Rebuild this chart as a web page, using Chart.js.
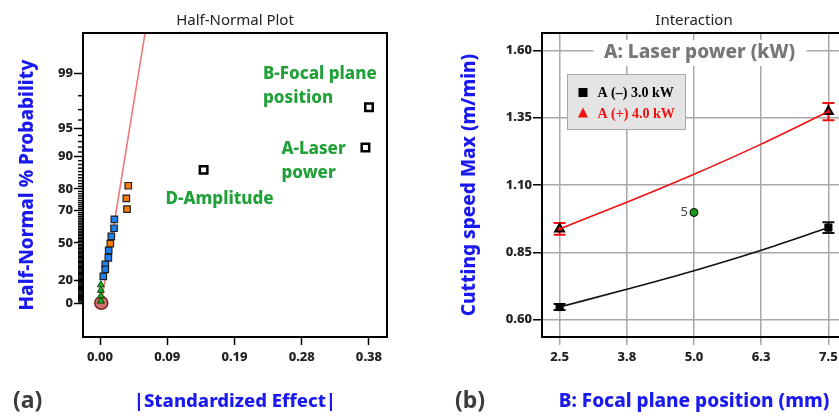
<!DOCTYPE html>
<html>
<head>
<meta charset="utf-8">
<script src="https://cdn.jsdelivr.net/npm/chart.js@4.4.1/dist/chart.umd.min.js"></script>
<style>
  html, body { margin: 0; padding: 0; background: #fff; overflow: hidden; }
  body { width: 839px; height: 417px; position: relative; }
  canvas { position: absolute; top: 0; }
  #halfNormal { left: 0; }
  #interaction { left: 420px; }
</style>
</head>
<body>
<canvas id="halfNormal" width="420" height="417"></canvas>
<canvas id="interaction" width="440" height="417"></canvas>
<script>
// (a) half-normal plot: |standardized effect| vs half-normal probability (%)
const namedEffects = [0.378, 0.373, 0.1456];
const namedProb = [97.2, 91.9, 86.5];
const namedLabels = [['B-Focal plane', 'position'], ['A-Laser', 'power'], ['D-Amplitude']];
const orangeEffects = [0.0397, 0.0370, 0.0380, 0.0145];
const orangeProb = [81.2, 76.0, 70.8, 49.5];
const blueEffects = [0.0201, 0.0197, 0.0159, 0.0122, 0.0117, 0.0074, 0.0074, 0.0046];
const blueProb = [65.3, 59.9, 54.6, 44.6, 38.9, 33.6, 29.5, 23.6];
const greenEffects = [0.0012, 0.0012, 0.0012, 0.0012];
const greenProb = [16.3, 11.4, 6.3, 1.8];
const errorEffects = [0.0018];
const errorProb = [0.3];
const fitEffects = [0.0018, 0.0686];
const fitProb = [0, 99.9];
const probTicks = [0, 20, 50, 70, 80, 90, 95, 99];
const effectTicks = [0, 0.0945, 0.189, 0.2835, 0.378];

// (b) interaction of laser power and focal plane position
const focalTicks = [2.5, 3.75, 5.0, 6.25, 7.5];
const speedTicks = [0.60, 0.85, 1.10, 1.35, 1.60];
const focalCurve = [2.5, 3.75, 5.0, 6.25, 7.5];
const lowPowerCurve = [0.647, 0.713, 0.782, 0.858, 0.942];
const highPowerCurve = [0.937, 1.036, 1.140, 1.252, 1.373];
const focalLevels = [2.5, 7.5];
const lowPowerMean = [0.647, 0.942];
const highPowerMean = [0.937, 1.373];
const lowPowerLsd = [0.011, 0.020];
const highPowerLsd = [0.022, 0.032];
const centerFocal = [5.0];
const centerSpeed = [0.998];
const centerRuns = ['5'];

const FONT = "'Noto Sans', 'Open Sans', sans-serif";
Chart.defaults.font.family = FONT;
Chart.defaults.color = '#222';

// inverse normal CDF (Acklam) used for the half-normal probability axis
function probit(p) {
  const a = [-3.969683028665376e+01, 2.209460984245205e+02, -2.759285104469687e+02, 1.383577518672690e+02, -3.066479806614716e+01, 2.506628277459239e+00];
  const b = [-5.447609879822406e+01, 1.615858368580409e+02, -1.556989798598866e+02, 6.680131188771972e+01, -1.328068155288572e+01];
  const c = [-7.784894002430293e-03, -3.223964580411365e-01, -2.400758277161838e+00, -2.549732539343734e+00, 4.374664141464968e+00, 2.938163982698783e+00];
  const d = [7.784695709041462e-03, 3.224671290700398e-01, 2.445134137142996e+00, 3.754408661907416e+00];
  const lo = 0.02425;
  let q, r;
  if (p < lo) {
    q = Math.sqrt(-2 * Math.log(p));
    return (((((c[0]*q+c[1])*q+c[2])*q+c[3])*q+c[4])*q+c[5]) / ((((d[0]*q+d[1])*q+d[2])*q+d[3])*q+1);
  }
  if (p <= 1 - lo) {
    q = p - 0.5; r = q * q;
    return (((((a[0]*r+a[1])*r+a[2])*r+a[3])*r+a[4])*r+a[5])*q / (((((b[0]*r+b[1])*r+b[2])*r+b[3])*r+b[4])*r+1);
  }
  q = Math.sqrt(-2 * Math.log(1 - p));
  return -(((((c[0]*q+c[1])*q+c[2])*q+c[3])*q+c[4])*q+c[5]) / ((((d[0]*q+d[1])*q+d[2])*q+d[3])*q+1);
}
const hnz = pct => probit(0.5 + pct / 200);
const pts = (xs, ps) => xs.map((x, i) => ({ x: x, y: hnz(ps[i]) }));

const tickFont = { size: 13, weight: 800 };
const yTitleFont = { size: 19, weight: 800 };
const axisBlue = '#1a1af0';

// panel title, panel letter and frame
function panelDecor(title, letter, letterX, fullFrame) {
  return {
    id: 'panelDecor',
    afterDraw(chart) {
      const { ctx, chartArea: ca } = chart;
      ctx.save();
      ctx.fillStyle = '#222';
      ctx.font = '15px ' + FONT;
      ctx.textAlign = 'center';
      ctx.textBaseline = 'middle';
      ctx.fillText(title, (ca.left + ca.right) / 2, 21);
      ctx.fillStyle = '#3c3c3c';
      ctx.font = 'bold 23px ' + FONT;
      ctx.textAlign = 'left';
      ctx.fillText(letter, letterX, 401);
      ctx.strokeStyle = '#000';
      ctx.lineWidth = 2;
      if (fullFrame) {
        ctx.strokeRect(ca.left, ca.top, ca.right - ca.left, ca.bottom - ca.top);
      } else {
        ctx.beginPath();
        ctx.moveTo(ca.left, ca.top);
        ctx.lineTo(ca.right + 20, ca.top);
        ctx.stroke();
      }
      ctx.restore();
    }
  };
}

// minor ticks on the probability axis
const minorTicks = {
  id: 'minorTicks',
  afterDraw(chart) {
    const { ctx } = chart;
    const y = chart.scales.y;
    ctx.save();
    ctx.strokeStyle = '#000';
    ctx.lineWidth = 1.4;
    for (let p = 1; p < 99; p++) {
      if (probTicks.includes(p)) continue;
      const py = y.getPixelForValue(hnz(p));
      ctx.beginPath();
      ctx.moveTo(y.right - 5, py);
      ctx.lineTo(y.right, py);
      ctx.stroke();
    }
    ctx.restore();
  }
};

// labels next to the significant effects
const labelOffsets = [[-106, -33], [-84, 2], [-38, 29]];
const effectLabels = {
  id: 'effectLabels',
  afterDatasetsDraw(chart) {
    const { ctx } = chart;
    const meta = chart.getDatasetMeta(0);
    ctx.save();
    ctx.fillStyle = '#22a03a';
    ctx.font = '800 17px ' + FONT;
    ctx.textAlign = 'left';
    ctx.textBaseline = 'middle';
    meta.data.forEach((pt, i) => {
      const [dx, dy] = labelOffsets[i];
      namedLabels[i].forEach((line, j) => {
        ctx.fillText(line, pt.x + dx, pt.y + dy + j * 24);
      });
    });
    ctx.restore();
  }
};

new Chart(document.getElementById('halfNormal'), {
  type: 'scatter',
  data: {
    datasets: [
      { label: 'named', data: pts(namedEffects, namedProb), pointStyle: 'rect', pointRadius: 5.3,
        backgroundColor: '#fff', borderColor: '#000', borderWidth: 2.5 },
      { label: 'orange', data: pts(orangeEffects, orangeProb), pointStyle: 'rect', pointRadius: 4.6,
        backgroundColor: '#f57d10', borderColor: '#222', borderWidth: 1.2 },
      { label: 'blue', data: pts(blueEffects, blueProb), pointStyle: 'rect', pointRadius: 4.6,
        backgroundColor: '#1f80f0', borderColor: '#222', borderWidth: 1.2 },
      { label: 'green', data: pts(greenEffects, greenProb), pointStyle: 'triangle', pointRadius: 4,
        backgroundColor: '#1fb01f', borderColor: '#0c400c', borderWidth: 1 },
      { label: 'error', data: pts(errorEffects, errorProb), pointStyle: 'circle', pointRadius: 6.5,
        backgroundColor: '#cf7070', borderColor: '#7a2a2a', borderWidth: 1.5 },
      { type: 'line', label: 'fit', data: pts(fitEffects, fitProb), borderColor: '#f07878',
        borderWidth: 1.6, pointRadius: 0, fill: false }
    ]
  },
  options: {
    responsive: false,
    animation: false,
    layout: { padding: { top: 33, right: 33, left: 0, bottom: 0 } },
    plugins: { legend: { display: false }, tooltip: { enabled: false } },
    scales: {
      x: {
        type: 'linear', min: -0.0239, max: 0.4033,
        afterBuildTicks: s => { s.ticks = effectTicks.map(v => ({ value: v })); },
        afterFit: s => { s.height = 80; },
        ticks: { callback: v => v.toFixed(2), font: tickFont, color: '#222', padding: 4, maxRotation: 0 },
        grid: { drawOnChartArea: false, tickLength: 8, tickColor: '#000', tickWidth: 1.5 },
        border: { color: '#000', width: 2 },
        title: { display: true, text: '|Standardized Effect|', color: axisBlue,
          font: { size: 18.5, weight: 800 }, padding: { bottom: 4 } }
      },
      y: {
        type: 'linear', min: -0.38, max: 3.03,
        afterBuildTicks: s => { s.ticks = probTicks.map(p => ({ value: hnz(p) })); },
        afterFit: s => { s.width = 83; },
        ticks: { callback: (v, i) => String(probTicks[i]), font: tickFont, color: '#222', padding: 1 },
        grid: { drawOnChartArea: false, tickLength: 9, tickColor: '#000', tickWidth: 1.5 },
        border: { color: '#000', width: 2 },
        title: { display: true, text: 'Half-Normal % Probability', color: axisBlue, font: yTitleFont, padding: { top: 16 } }
      }
    }
  },
  plugins: [panelDecor('Half-Normal Plot', '(a)', 13, true), minorTicks, effectLabels]
});

// LSD-style error bars on the factor-level means
const errorBars = {
  id: 'errorBars',
  beforeDatasetsDraw(chart) {
    const { ctx } = chart;
    const y = chart.scales.y;
    ctx.save();
    chart.data.datasets.forEach((ds, di) => {
      if (!ds.lsd) return;
      const meta = chart.getDatasetMeta(di);
      ctx.strokeStyle = ds.barColor;
      ctx.lineWidth = 2;
      meta.data.forEach((pt, i) => {
        const v = ds.data[i].y;
        const top = y.getPixelForValue(v + ds.lsd[i]);
        const bot = y.getPixelForValue(v - ds.lsd[i]);
        ctx.beginPath();
        ctx.moveTo(pt.x, top); ctx.lineTo(pt.x, bot);
        ctx.moveTo(pt.x - 6, top); ctx.lineTo(pt.x + 6, top);
        ctx.moveTo(pt.x - 6, bot); ctx.lineTo(pt.x + 6, bot);
        ctx.stroke();
      });
    });
    ctx.restore();
  }
};

// factor header, legend box and centre-point run count
const interactionNotes = {
  id: 'interactionNotes',
  beforeDatasetsDraw(chart) {
    const { ctx, chartArea: ca } = chart;
    const cx = ca.left + 157.5, cy = ca.top + 20;
    ctx.save();
    ctx.fillStyle = '#fff';
    ctx.fillRect(cx - 106, cy - 13, 213, 26);
    ctx.fillStyle = '#777';
    ctx.font = '800 19px ' + FONT;
    ctx.textAlign = 'center';
    ctx.textBaseline = 'middle';
    ctx.fillText('A: Laser power (kW)', cx, cy);

    const bx = ca.left + 25, by = ca.top + 41;
    ctx.fillStyle = '#e4e4e4';
    ctx.fillRect(bx, by, 118, 55);
    ctx.strokeStyle = '#a8a8a8';
    ctx.lineWidth = 1;
    ctx.strokeRect(bx + 0.5, by + 0.5, 118, 55);
    ctx.font = "bold 14px 'Liberation Serif'";
    ctx.textAlign = 'left';
    const entries = [chart.data.datasets[2], chart.data.datasets[3]];
    entries.forEach((ds, i) => {
      const ey = by + 18.5 + i * 20.5;
      ctx.fillStyle = ds.legendColor;
      if (ds.pointStyle === 'rect') {
        ctx.fillRect(bx + 11.5, ey - 4.5, 9, 9);
      } else {
        ctx.beginPath();
        ctx.moveTo(bx + 16, ey - 5.5);
        ctx.lineTo(bx + 21, ey + 4.5);
        ctx.lineTo(bx + 11, ey + 4.5);
        ctx.closePath();
        ctx.fill();
      }
      ctx.fillText(ds.label, bx + 30.5, ey + 1);
    });
    ctx.restore();
  },
  afterDatasetsDraw(chart) {
    const { ctx } = chart;
    const meta = chart.getDatasetMeta(4);
    ctx.save();
    ctx.fillStyle = '#444';
    ctx.font = '13px ' + FONT;
    ctx.textAlign = 'right';
    ctx.textBaseline = 'middle';
    meta.data.forEach((pt, i) => ctx.fillText(centerRuns[i], pt.x - 6, pt.y));
    ctx.restore();
  }
};

const xy = (xs, ys) => xs.map((x, i) => ({ x: x, y: ys[i] }));

new Chart(document.getElementById('interaction'), {
  type: 'scatter',
  data: {
    datasets: [
      { type: 'line', label: 'low curve', data: xy(focalCurve, lowPowerCurve), borderColor: '#111',
        borderWidth: 1.6, pointRadius: 0, cubicInterpolationMode: 'monotone', fill: false },
      { type: 'line', label: 'high curve', data: xy(focalCurve, highPowerCurve), borderColor: '#f01010',
        borderWidth: 1.6, pointRadius: 0, cubicInterpolationMode: 'monotone', fill: false },
      { label: 'A (\u2013) 3.0 kW', data: xy(focalLevels, lowPowerMean), pointStyle: 'rect', pointRadius: 5,
        backgroundColor: '#000', borderColor: '#000', borderWidth: 1, lsd: lowPowerLsd, barColor: '#111',
        legendColor: '#000' },
      { label: 'A (+) 4.0 kW', data: xy(focalLevels, highPowerMean), pointStyle: 'triangle', pointRadius: 5,
        backgroundColor: '#e81010', borderColor: '#000', borderWidth: 2, lsd: highPowerLsd, barColor: '#f01010',
        legendColor: '#f01010' },
      { label: 'centre', data: xy(centerFocal, centerSpeed), pointStyle: 'circle', pointRadius: 4,
        backgroundColor: '#1a9a1a', borderColor: '#000', borderWidth: 1 }
    ]
  },
  options: {
    responsive: false,
    animation: false,
    layout: { padding: { top: 33, right: 14, left: 0, bottom: 0 } },
    plugins: { legend: { display: false }, tooltip: { enabled: false } },
    scales: {
      x: {
        type: 'linear', min: 2.173, max: 7.827,
        afterBuildTicks: s => { s.ticks = focalTicks.map(v => ({ value: v })); },
        afterFit: s => { s.height = 80; },
        ticks: { callback: v => v.toFixed(1), font: tickFont, color: '#222', padding: 4, maxRotation: 0 },
        grid: { color: '#a8a8a8', lineWidth: 1.5, tickLength: 8, tickColor: '#a8a8a8' },
        border: { color: '#000', width: 2 },
        title: { display: true, text: 'B: Focal plane position (mm)', color: axisBlue,
          font: { size: 19, weight: 800 }, padding: { bottom: 4 } }
      },
      y: {
        type: 'linear', min: 0.5357, max: 1.6646,
        afterBuildTicks: s => { s.ticks = speedTicks.map(v => ({ value: v })); },
        afterFit: s => { s.width = 122; },
        ticks: { callback: v => v.toFixed(2), font: tickFont, color: '#222', padding: 1 },
        grid: { color: '#a8a8a8', lineWidth: 1.5, tickLength: 9, tickColor: '#000' },
        border: { color: '#000', width: 2 },
        title: { display: true, text: 'Cutting speed Max (m/min)', color: axisBlue, font: yTitleFont, padding: { top: 38 } }
      }
    }
  },
  plugins: [panelDecor('Interaction', '(b)', 35, false), errorBars, interactionNotes]
});
</script>
</body>
</html>
